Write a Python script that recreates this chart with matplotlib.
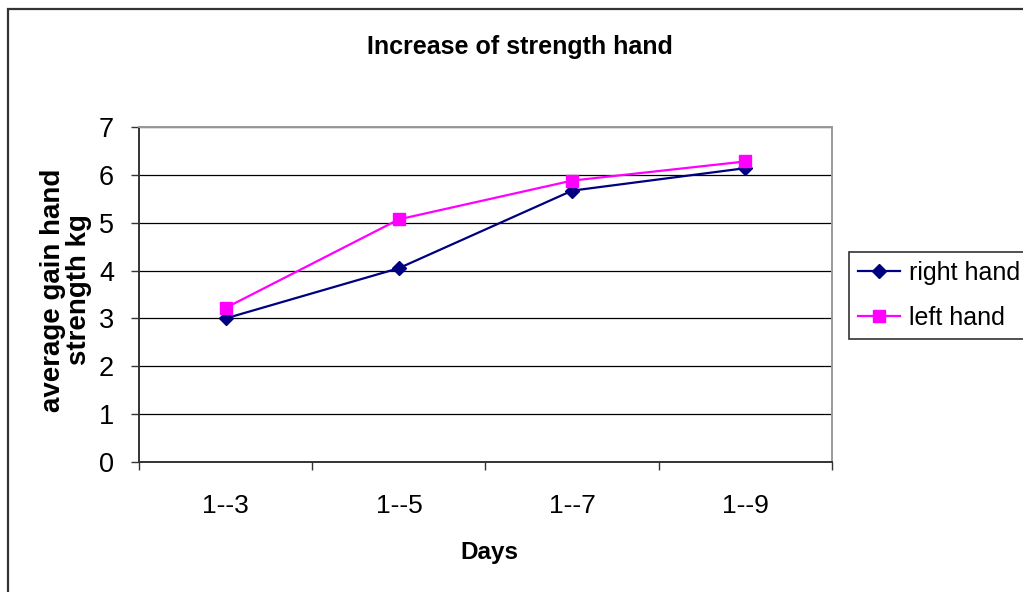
import matplotlib
matplotlib.use("Agg")
import matplotlib.pyplot as plt
import matplotlib.patches as patches
import numpy as np

# data
days = ["1--3", "1--5", "1--7", "1--9"]
right_hand = [3.0, 4.05, 5.67, 6.14]
left_hand = [3.22, 5.07, 5.88, 6.28]
y_ticks = [0, 1, 2, 3, 4, 5, 6, 7]

plt.rcParams["font.family"] = ["Liberation Sans", "DejaVu Sans"]

W, H = 1023, 592
fig = plt.figure(figsize=(W / 100, H / 100), dpi=100)
fig.patch.set_facecolor("white")

# outer chart border (right/bottom fall outside the picture)
fig.add_artist(patches.Rectangle((8 / W, -0.05), 1.1, 1 - 9 / H + 0.05,
                                 transform=fig.transFigure, fill=False,
                                 edgecolor="#333333", linewidth=1.6, clip_on=False))

ax = fig.add_axes([139 / W, 1 - 462 / H, (832 - 139) / W, (462 - 127) / H])
x = np.arange(len(days))

ax.plot(x, right_hand, color="#000080", lw=1.6, marker="D", ms=7.5,
        label="right hand", zorder=3)
ax.plot(x, left_hand, color="#FF00FF", lw=1.6, marker="s", ms=9,
        label="left hand", zorder=3)

ax.set_xlim(-0.5, len(days) - 0.5)
ax.set_ylim(0, 7)
ax.set_yticks(y_ticks)
ax.yaxis.grid(True, color="black", lw=0.9)
ax.set_axisbelow(True)

ax.set_xticks(x)
ax.set_xticklabels(days)
ax.set_xticks(np.arange(-0.5, len(days)), minor=True)
ax.tick_params(axis="x", which="major", length=0, pad=23, labelsize=19)
ax.tick_params(axis="x", which="minor", length=6, width=1, color="#333333")
ax.tick_params(axis="y", length=6, width=1, color="#333333", pad=12, labelsize=19.5)

for s in ["left", "bottom"]:
    ax.spines[s].set_color("#333333")
    ax.spines[s].set_linewidth(1.4)
for s in ["top", "right"]:
    ax.spines[s].set_color("#9a9a9a")
    ax.spines[s].set_linewidth(1.4)

fig.text(520 / W, 1 - 47 / H, "Increase of strength hand", ha="center",
         va="center", fontsize=18, fontweight="bold")
fig.text(489 / W, 1 - 553 / H, "Days", ha="center", va="center",
         fontsize=17.5, fontweight="bold")
fig.text(66 / W, 1 - 290 / H, "average gain hand\nstrength kg", ha="center",
         va="center", rotation=90, fontsize=20, fontweight="bold",
         multialignment="center", linespacing=1.0)

leg = ax.legend(loc="upper left", bbox_to_anchor=(849 / W, 1 - 252 / H),
                bbox_transform=fig.transFigure, fontsize=18, frameon=True,
                fancybox=False, edgecolor="black", handlelength=1.7,
                handletextpad=0.35, labelspacing=0.85, borderpad=0.35,
                borderaxespad=0)
leg.get_frame().set_linewidth(1.2)

fig.savefig("out.png", dpi=100)
